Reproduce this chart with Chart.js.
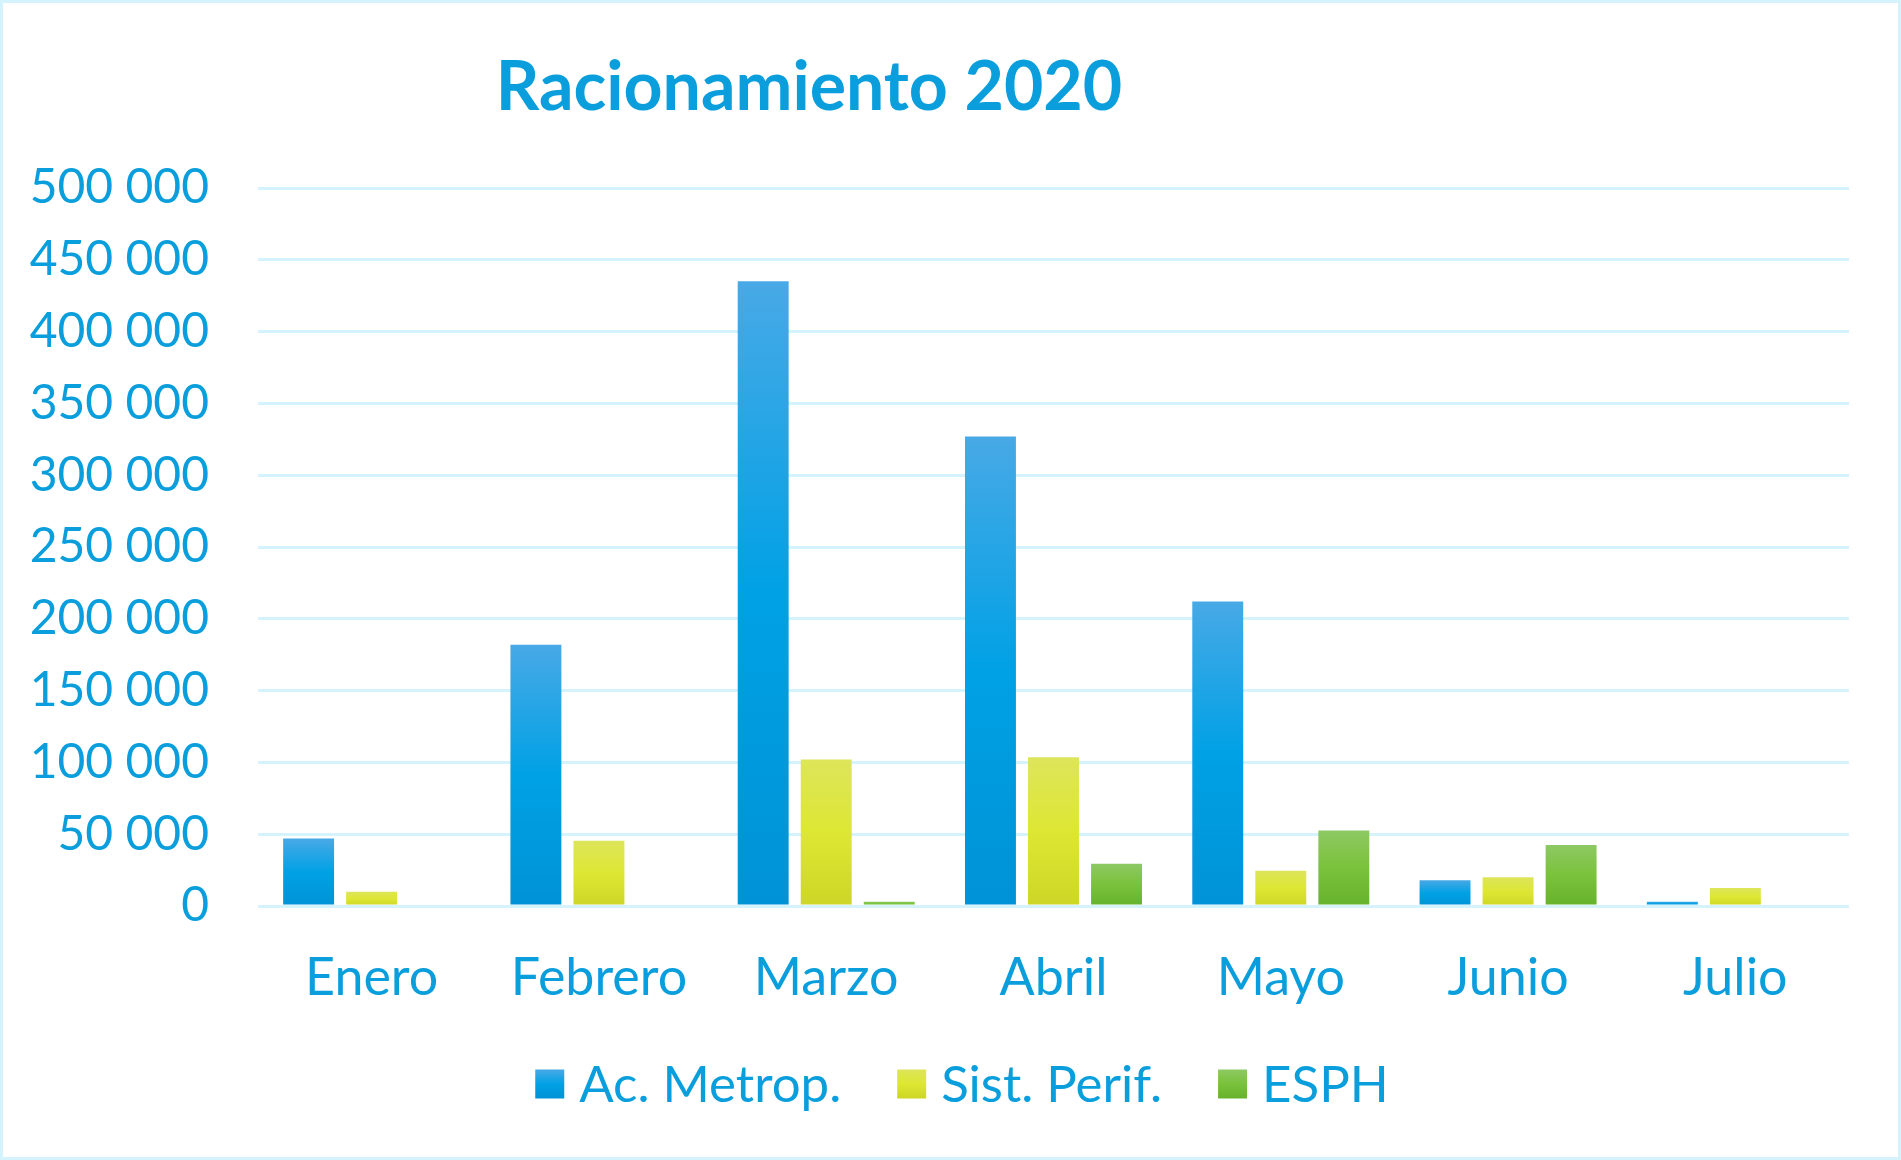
<!DOCTYPE html>
<html lang="es">
<head>
<meta charset="utf-8">
<title>Racionamiento 2020</title>
<script src="https://cdn.jsdelivr.net/npm/chart.js@4"></script>
<style>
    html, body { margin: 0; padding: 0; background: #fff; overflow: hidden; }
    canvas { display: block; }
</style>
</head>
<body>
<canvas id="chart" width="1901" height="1160"></canvas>
<script>
const months = ['Enero', 'Febrero', 'Marzo', 'Abril', 'Mayo', 'Junio', 'Julio'];
const seriesNames = ['Ac. Metrop.', 'Sist. Perif.', 'ESPH'];
const metrop = [47000, 182000, 435000, 327000, 212000, 18000, 3000];
const periferico = [10000, 45500, 102000, 103500, 24500, 20000, 12500];
const esph = [0, 0, 3000, 29500, 52500, 42500, 0];
const yTicks = [0, 50000, 100000, 150000, 200000, 250000, 300000, 350000, 400000, 450000, 500000];

const TEXT = '#0a9fdc';
const GRID = '#d5f3fd';
const FONT = 'Lato, "Open Sans", sans-serif';

const blueStops = ['#48a9e6', '#00a1e5', '#0092d6'];
const yellowStops = ['#dde55a', '#dde733', '#cdd626'];
const greenStops = ['#8dc963', '#7ac23b', '#66b22c'];
const allStops = [blueStops, yellowStops, greenStops];

function gradient(ctx, stops, top, bottom) {
    const g = ctx.createLinearGradient(0, top, 0, bottom);
    g.addColorStop(0, stops[0]);
    g.addColorStop(0.5, stops[1]);
    g.addColorStop(1, stops[2]);
    return g;
}

// Office-style vertical gradient per bar, from its top to the zero line
function barFill(stops) {
    return (ctx) => {
        const chart = ctx.chart;
        const y = chart.scales.y;
        if (ctx.type !== 'data' || !y) {
            return stops[1];
        }
        const top = y.getPixelForValue(ctx.raw);
        const bottom = y.getPixelForValue(0);
        if (!isFinite(top) || !isFinite(bottom) || bottom - top < 1) {
            return stops[1];
        }
        return gradient(chart.ctx, stops, top, bottom);
    };
}

function spaced(v) {
    return String(v).replace(/\B(?=(\d{3})+(?!\d))/g, ' ');
}

// white background, light frame, title and a legend laid out like the Excel one
const decor = {
    id: 'decor',
    beforeDraw(chart) {
        const { ctx, width, height } = chart;
        ctx.save();
        ctx.fillStyle = '#fff';
        ctx.fillRect(0, 0, width, height);
        ctx.strokeStyle = GRID;
        ctx.lineWidth = 3;
        ctx.strokeRect(1.5, 1.5, width - 3, height - 3);
        ctx.restore();
    },
    afterDraw(chart) {
        const { ctx } = chart;
        ctx.save();
        ctx.fillStyle = TEXT;
        ctx.font = 'bold 68px ' + FONT;
        ctx.textAlign = 'center';
        ctx.textBaseline = 'middle';
        ctx.fillText('Racionamiento 2020', 809, 88);

        const box = 29, gap = 15, spacing = 56, cy = 1084;
        ctx.font = '51px ' + FONT;
        ctx.textAlign = 'left';
        const widths = seriesNames.map(n => ctx.measureText(n).width);
        const total = widths.reduce((a, w) => a + box + gap + w, 0) + spacing * (seriesNames.length - 1);
        let x = 962 - total / 2;
        seriesNames.forEach((name, i) => {
            ctx.fillStyle = gradient(ctx, allStops[i], cy - box / 2, cy + box / 2);
            ctx.fillRect(x, cy - box / 2, box, box);
            x += box + gap;
            ctx.fillStyle = TEXT;
            ctx.fillText(name, x, cy + 2);
            x += widths[i] + spacing;
        });
        ctx.restore();
    }
};

new Chart(document.getElementById('chart'), {
    type: 'bar',
    data: {
        labels: months,
        datasets: [
            { label: seriesNames[0], data: metrop, backgroundColor: barFill(blueStops) },
            { label: seriesNames[1], data: periferico, backgroundColor: barFill(yellowStops) },
            { label: seriesNames[2], data: esph, backgroundColor: barFill(greenStops) },
        ],
    },
    options: {
        responsive: false,
        animation: false,
        devicePixelRatio: 1,
        categoryPercentage: 0.832,
        barPercentage: 0.808,
        layout: {
            padding: { top: 188, right: 52, left: 0, bottom: 0 },
        },
        scales: {
            x: {
                afterFit(s) {
                    s.height = 254;
                },
                grid: { display: false },
                border: { display: false },
                ticks: {
                    color: TEXT,
                    padding: 33,
                    font: { family: FONT, size: 52 },
                },
            },
            y: {
                min: 0,
                max: 500000,
                afterBuildTicks(s) {
                    s.ticks = yTicks.map(v => ({ value: v }));
                },
                afterFit(s) {
                    s.width = 258;
                },
                grid: { color: GRID, lineWidth: 3, drawTicks: false },
                border: { display: false },
                ticks: {
                    color: TEXT,
                    padding: 49,
                    font: { family: FONT, size: 48 },
                    callback: (v) => spaced(v),
                },
            },
        },
        plugins: {
            title: { display: false },
            tooltip: { enabled: false },
            legend: { display: false },
        },
    },
    plugins: [decor],
});
</script>
</body>
</html>
